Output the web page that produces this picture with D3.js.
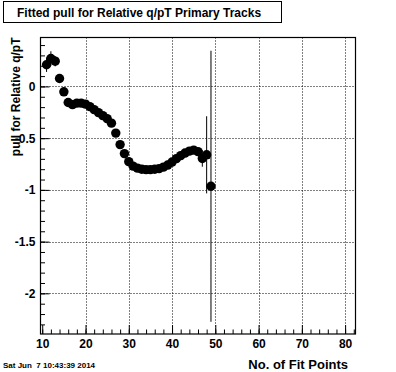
<!DOCTYPE html>
<html lang="en">
<head>
	<meta charset="utf-8">
	<script src="https://d3js.org/d3.v7.min.js"></script>
	<style type="text/css">
		body {
			margin: 0;
			background: white;
		}
		svg text {
			font-family: "Liberation Sans", Arial, sans-serif;
			font-weight: bold;
		}
	</style>
</head>
<body>
	<svg id="svg1" width="396" height="372"></svg>
	<script type="text/javascript">
		// data
		var fitPoints = [11, 12, 13, 14, 15, 16, 17, 18, 19, 20, 21, 22, 23, 24, 25, 26, 27, 28, 29, 30,
			31, 32, 33, 34, 35, 36, 37, 38, 39, 40, 41, 42, 43, 44, 45, 46, 47, 48, 49];
		var pullValues = [0.21, 0.27, 0.244, 0.077, -0.052, -0.155, -0.176, -0.161, -0.161, -0.171,
			-0.195, -0.224, -0.253, -0.282, -0.311, -0.355, -0.451, -0.562, -0.649, -0.727,
			-0.77, -0.79, -0.80, -0.804, -0.804, -0.80, -0.794, -0.78, -0.76, -0.731,
			-0.698, -0.669, -0.644, -0.625, -0.616, -0.63, -0.696, -0.661, -0.965];
		var pullErrors = [0.07, 0.07, 0.05, 0.03, 0.02, 0.02, 0.02, 0.02, 0.02, 0.02,
			0.02, 0.02, 0.02, 0.02, 0.02, 0.02, 0.02, 0.02, 0.02, 0.02,
			0.02, 0.02, 0.02, 0.02, 0.02, 0.02, 0.02, 0.02, 0.02, 0.02,
			0.02, 0.02, 0.03, 0.03, 0.03, 0.03, 0.08, 0.373, 1.31];
		var xTicks = [10, 20, 30, 40, 50, 60, 70, 80];
		var yTicks = [0, -0.5, -1, -1.5, -2];

		var data = fitPoints.map(function (d, i) {
			return { x: d, y: pullValues[i], e: pullErrors[i] };
		});

		var svg = d3.select("#svg1");

		var frameL = 40.5, frameR = 355.5, frameT = 37.5, frameB = 334;

		var x = d3.scaleLinear().domain([9.6, 82.4]).range([frameL, frameR]);
		var y = d3.scaleLinear().domain([-2.393, 0.473]).range([frameB, frameT]);

		// title box
		svg.append("rect")
			.attr("x", 3.5).attr("y", 1.5)
			.attr("width", 278).attr("height", 21)
			.style("fill", "white").style("stroke", "black");
		svg.append("text")
			.attr("x", 17).attr("y", 16.5)
			.attr("font-size", "12px")
			.text("Fitted pull for Relative q/pT Primary Tracks");

		// grid
		svg.append("g").selectAll("line")
			.data(xTicks.filter(d => d > 10))
			.enter().append("line")
			.attr("x1", d => Math.round(x(d)) + 0.5).attr("x2", d => Math.round(x(d)) + 0.5)
			.attr("y1", frameT).attr("y2", frameB)
			.style("stroke", "black").style("stroke-dasharray", "1,2");
		svg.append("g").selectAll("line")
			.data(yTicks)
			.enter().append("line")
			.attr("x1", frameL).attr("x2", frameR)
			.attr("y1", d => Math.round(y(d)) + 0.5).attr("y2", d => Math.round(y(d)) + 0.5)
			.style("stroke", "black").style("stroke-dasharray", "1,2");

		// axes
		var xMinor = d3.range(10, 83, 2);
		var yMinor = d3.range(-23, 5).map(d => d / 10);

		svg.append("g")
			.attr("transform", "translate(0," + frameB + ")")
			.call(d3.axisBottom(x).tickValues(xMinor).tickSize(-4.5).tickFormat(""))
			.call(g => g.select(".domain").remove());
		var gx = svg.append("g")
			.attr("transform", "translate(0," + frameB + ")")
			.call(d3.axisBottom(x).tickValues(xTicks).tickSize(-9).tickPadding(5).tickFormat(d => String(d)));
		gx.select(".domain").remove();
		gx.selectAll("text").attr("font-size", "12px").attr("font-family", null);

		svg.append("g")
			.attr("transform", "translate(" + frameL + ",0)")
			.call(d3.axisLeft(y).tickValues(yMinor).tickSize(-4.5).tickFormat(""))
			.call(g => g.select(".domain").remove());
		var gy = svg.append("g")
			.attr("transform", "translate(" + frameL + ",0)")
			.call(d3.axisLeft(y).tickValues(yTicks).tickSize(-9).tickPadding(5).tickFormat(d => String(d)));
		gy.select(".domain").remove();
		gy.selectAll("text").attr("font-size", "12px").attr("font-family", null);

		// frame
		svg.append("rect")
			.attr("x", frameL).attr("y", frameT)
			.attr("width", frameR - frameL).attr("height", frameB - frameT)
			.style("fill", "none").style("stroke", "black").style("stroke-width", 1.2);

		// error bars
		svg.append("g").selectAll("line")
			.data(data)
			.enter().append("line")
			.attr("x1", d => x(d.x)).attr("x2", d => x(d.x))
			.attr("y1", d => y(d.y + d.e)).attr("y2", d => y(d.y - d.e))
			.style("stroke", "black");

		// markers
		svg.append("g").selectAll("circle")
			.data(data)
			.enter().append("circle")
			.attr("cx", d => x(d.x)).attr("cy", d => y(d.y))
			.attr("r", 4.7)
			.style("fill", "black");

		// labels
		svg.append("text")
			.attr("transform", "translate(20," + frameT + ") rotate(-90)")
			.attr("text-anchor", "end")
			.attr("font-size", "12px")
			.text("pull for Relative q/pT");

		svg.append("text")
			.attr("x", 348).attr("y", 369)
			.attr("text-anchor", "end")
			.attr("font-size", "13px")
			.text("No. of Fit Points");

		svg.append("text")
			.attr("x", 3).attr("y", 367.5)
			.attr("font-size", "8px")
			.text("Sat Jun  7 10:43:39 2014")
			.style("white-space", "pre");
	</script>
</body>
</html>
